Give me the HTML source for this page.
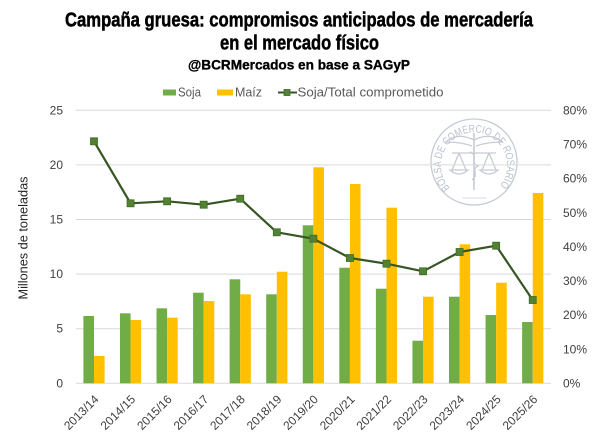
<!DOCTYPE html>
<html><head><meta charset="utf-8"><style>
html,body{margin:0;padding:0;background:#fff;}
svg{display:block;}
</style></head><body>
<svg width="600" height="435" viewBox="0 0 600 435" xmlns="http://www.w3.org/2000/svg">
<rect width="600" height="435" fill="#fff"/>
<!-- Titles -->
<g font-family="'Liberation Sans Narrow','Liberation Sans',sans-serif" font-weight="bold" fill="#000" stroke="#000" stroke-width="0.5" text-anchor="start">
<text x="65" y="26.5" font-size="20" textLength="468" lengthAdjust="spacingAndGlyphs">Campaña gruesa: compromisos anticipados de mercadería</text>
<text x="220" y="49.5" font-size="20" textLength="159" lengthAdjust="spacingAndGlyphs">en el mercado físico</text>
<text x="188" y="69.5" font-size="14" stroke-width="0.35" textLength="222" lengthAdjust="spacingAndGlyphs">@BCRMercados en base a SAGyP</text>
</g>
<!-- Legend -->
<g font-family="'Liberation Sans',sans-serif" font-size="13" fill="#595959">
<rect x="163" y="89.5" width="13" height="6" fill="#70AD47"/>
<text x="178" y="96.5" textLength="23" lengthAdjust="spacingAndGlyphs">Soja</text>
<rect x="217" y="89.5" width="16" height="6" fill="#FFC000"/>
<text x="235" y="96.5" textLength="27" lengthAdjust="spacingAndGlyphs">Maíz</text>
<line x1="278" y1="92.5" x2="297" y2="92.5" stroke="#375623" stroke-width="2"/>
<rect x="284" y="89.5" width="6" height="6" fill="#548235" stroke="#3b6a24" stroke-width="0.8"/>
<text x="297.5" y="96.5" textLength="146" lengthAdjust="spacingAndGlyphs">Soja/Total comprometido</text>
</g>
<!-- Seal watermark -->
<g fill="none" stroke="#c6cbd4" stroke-width="1.3">
<circle cx="474" cy="162" r="43"/>
<path d="M452 153 H496" />
<path d="M474 133 V190" stroke-width="1.6"/>
<path d="M474 140 C462 134 452 136 446 142 C456 142 464 143 472 146" />
<path d="M474 140 C486 134 496 136 502 142 C492 142 484 143 476 146" />
<path d="M470 152 C480 156 468 162 478 166 C470 170 480 174 472 180" />
<path d="M459 153 L452 170 M459 153 L466 170 M450 170 Q459 178 468 170 Z"/>
<path d="M489 153 L482 170 M489 153 L496 170 M480 170 Q489 178 498 170 Z"/>
<path d="M462 198 H486" stroke-width="0.8"/>
</g>
<defs>
<path id="sealarc" d="M450 188 A33 33 0 1 1 498 188"/>
</defs>
<text font-family="'Liberation Sans',sans-serif" font-size="11" fill="#bcc1cc"><textPath href="#sealarc" textLength="150" lengthAdjust="spacingAndGlyphs">BOLSA DE COMERCIO DE ROSARIO</textPath></text>
<!-- Gridlines -->
<g stroke="#d9d9d9" stroke-width="1">
<line x1="75.7" y1="110.3" x2="551" y2="110.3"/>
<line x1="75.7" y1="164.9" x2="551" y2="164.9"/>
<line x1="75.7" y1="219.5" x2="551" y2="219.5"/>
<line x1="75.7" y1="274.1" x2="551" y2="274.1"/>
<line x1="75.7" y1="328.7" x2="551" y2="328.7"/>
<line x1="75.7" y1="383.3" x2="551" y2="383.3"/>
</g>
<!-- Left axis labels -->
<g font-family="'Liberation Sans',sans-serif" font-size="12" fill="#404040" text-anchor="end">
<text x="63" y="114.5">25</text>
<text x="63" y="169">20</text>
<text x="63" y="223.5">15</text>
<text x="63" y="278">10</text>
<text x="63" y="332.5">5</text>
<text x="63" y="387.5">0</text>
</g>
<!-- Right axis labels -->
<g font-family="'Liberation Sans',sans-serif" font-size="12" fill="#404040" text-anchor="start">
<text x="563" y="114.5">80%</text>
<text x="563" y="148.6">70%</text>
<text x="563" y="182.7">60%</text>
<text x="563" y="216.9">50%</text>
<text x="563" y="251">40%</text>
<text x="563" y="285.1">30%</text>
<text x="563" y="319.2">20%</text>
<text x="563" y="353.4">10%</text>
<text x="563" y="387.5">0%</text>
</g>
<!-- Axis title -->
<text transform="translate(27.5,238) rotate(-90)" font-family="'Liberation Sans',sans-serif" font-size="13" fill="#262626" text-anchor="middle" textLength="123" lengthAdjust="spacingAndGlyphs">Millones de toneladas</text>
<!-- Soja bars -->
<g fill="#70AD47">
<rect x="83.4" y="316" width="10.6" height="67.3"/>
<rect x="119.96" y="313.3" width="10.6" height="70"/>
<rect x="156.52" y="308.3" width="10.6" height="75"/>
<rect x="193.08" y="292.7" width="10.6" height="90.6"/>
<rect x="229.64" y="279.3" width="10.6" height="104"/>
<rect x="266.2" y="294.3" width="10.6" height="89"/>
<rect x="302.76" y="225.3" width="10.6" height="158"/>
<rect x="339.32" y="267.7" width="10.6" height="115.6"/>
<rect x="375.88" y="288.7" width="10.6" height="94.6"/>
<rect x="412.44" y="340.7" width="10.6" height="42.6"/>
<rect x="449" y="296.7" width="10.6" height="86.6"/>
<rect x="485.56" y="315" width="10.6" height="68.3"/>
<rect x="522.12" y="322" width="10.6" height="61.3"/>
</g>
<!-- Maiz bars -->
<g fill="#FFC000">
<rect x="94" y="356" width="10.6" height="27.3"/>
<rect x="130.56" y="320" width="10.6" height="63.3"/>
<rect x="167.12" y="317.7" width="10.6" height="65.6"/>
<rect x="203.68" y="301" width="10.6" height="82.3"/>
<rect x="240.24" y="294.3" width="10.6" height="89"/>
<rect x="276.8" y="271.7" width="10.6" height="111.6"/>
<rect x="313.36" y="167.3" width="10.6" height="216"/>
<rect x="349.92" y="184" width="10.6" height="199.3"/>
<rect x="386.48" y="207.7" width="10.6" height="175.6"/>
<rect x="423.04" y="296.7" width="10.6" height="86.6"/>
<rect x="459.6" y="244.3" width="10.6" height="139"/>
<rect x="496.16" y="282.7" width="10.6" height="100.6"/>
<rect x="532.72" y="193" width="10.6" height="190.3"/>
</g>
<!-- Line -->
<polyline fill="none" stroke="#375623" stroke-width="2.2" stroke-linejoin="round" points="94,141.3 130.56,203.3 167.12,201.3 203.68,204.7 240.24,198.7 276.8,232.3 313.36,238.7 349.92,258 386.48,263.7 423.04,271.3 459.6,252 496.16,245.7 532.72,300"/>
<g fill="#548235" stroke="#3b6a24" stroke-width="0.8">
<rect x="90.5" y="137.8" width="7" height="7"/>
<rect x="127.06" y="199.8" width="7" height="7"/>
<rect x="163.62" y="197.8" width="7" height="7"/>
<rect x="200.18" y="201.2" width="7" height="7"/>
<rect x="236.74" y="195.2" width="7" height="7"/>
<rect x="273.3" y="228.8" width="7" height="7"/>
<rect x="309.86" y="235.2" width="7" height="7"/>
<rect x="346.42" y="254.5" width="7" height="7"/>
<rect x="382.98" y="260.2" width="7" height="7"/>
<rect x="419.54" y="267.8" width="7" height="7"/>
<rect x="456.1" y="248.5" width="7" height="7"/>
<rect x="492.66" y="242.2" width="7" height="7"/>
<rect x="529.22" y="296.5" width="7" height="7"/>
</g>
<!-- X labels -->
<g font-family="'Liberation Sans',sans-serif" font-size="12" fill="#404040" text-anchor="end">
<text transform="translate(99.5,400) rotate(-45)">2013/14</text>
<text transform="translate(136.06,400) rotate(-45)">2014/15</text>
<text transform="translate(172.62,400) rotate(-45)">2015/16</text>
<text transform="translate(209.18,400) rotate(-45)">2016/17</text>
<text transform="translate(245.74,400) rotate(-45)">2017/18</text>
<text transform="translate(282.3,400) rotate(-45)">2018/19</text>
<text transform="translate(318.86,400) rotate(-45)">2019/20</text>
<text transform="translate(355.42,400) rotate(-45)">2020/21</text>
<text transform="translate(391.98,400) rotate(-45)">2021/22</text>
<text transform="translate(428.54,400) rotate(-45)">2022/23</text>
<text transform="translate(465.1,400) rotate(-45)">2023/24</text>
<text transform="translate(501.66,400) rotate(-45)">2024/25</text>
<text transform="translate(538.22,400) rotate(-45)">2025/26</text>
</g>
</svg>
</body></html>
